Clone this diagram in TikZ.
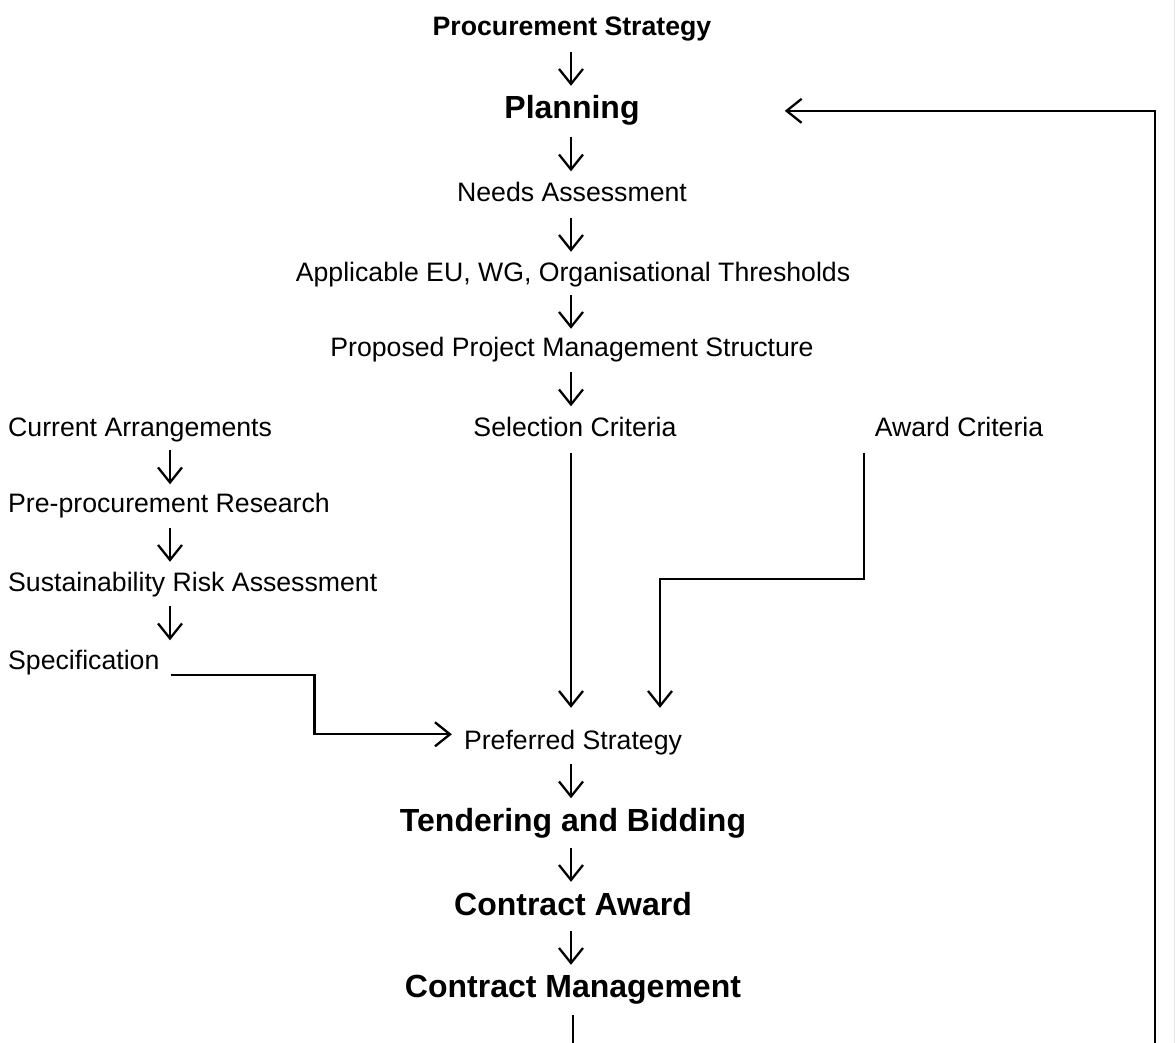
\documentclass[tikz,border=0pt]{standalone}
\usepackage{fontspec}
\setmainfont{Liberation Sans}
\usetikzlibrary{arrows.meta,calc}

\tikzset{
  lbl/.style={inner sep=0pt, font=\fontsize{26.67}{32}\selectfont,
              text height=19pt, text depth=5.6pt},
  smallhead/.style={lbl, font=\fontsize{26.67}{32}\selectfont\bfseries},
  stage/.style={inner sep=0pt, font=\fontsize{32}{38}\selectfont\bfseries,
                text height=23pt, text depth=6.7pt},
  arr/.style={draw=black, line width=2.3pt,
              -{Straight Barb[length=15pt,width=24pt]}},
}

% short downward arrow centred in the gap between two stacked labels
\newcommand\steparrow[3]{%
  \draw[arr] ($(#1.south -| #3)!.5!(#2.north -| #3)+(0,17)$) --
             ($(#1.south -| #3)!.5!(#2.north -| #3)-(0,17)$);}

\begin{document}
\begin{tikzpicture}[x=1pt,y=1pt]
  \clip (0,-1043) rectangle (1175,0);
  \fill[white] (0,-1043) rectangle (1175,0);
  \draw[gray!20, line width=1pt] (1174.5,-1043) -- (1174.5,0);

  % column guides
  \coordinate (ccol) at (571,0);
  \coordinate (lcol) at (170,0);
  \coordinate (loopbottom) at (573,-1070);
  \coordinate (loopright) at (1155,0);

  % main column
  \node[smallhead, anchor=base] (proc)   at (572,-36)  {Procurement Strategy};
  \node[stage,     anchor=base] (plan)   at (572,-119) {Planning};
  \node[lbl,       anchor=base] (needs)  at (572,-202) {Needs Assessment};
  \node[lbl,       anchor=base] (thresh) at (573,-281) {Applicable EU, WG, Organisational Thresholds};
  \node[lbl,       anchor=base] (pms)    at (572,-356) {Proposed Project Management Structure};
  \node[lbl,       anchor=base] (sel)    at (575,-436) {Selection Criteria};
  \node[lbl,       anchor=base] (award)  at (959,-436) {Award Criteria};
  \node[lbl,       anchor=base] (pref)   at (573,-749) {Preferred Strategy};
  \node[stage,     anchor=base] (tend)   at (573,-831) {Tendering and Bidding};
  \node[stage,     anchor=base] (caw)    at (573,-915) {Contract Award};
  \node[stage,     anchor=base] (cman)   at (573,-997) {Contract Management};

  % left column
  \node[lbl, anchor=base west] (curr) at (8,-436) {Current Arrangements};
  \node[lbl, anchor=base west] (pre)  at (8,-512) {Pre-procurement Research};
  \node[lbl, anchor=base west] (sust) at (8,-591) {Sustainability Risk Assessment};
  \node[lbl, anchor=base west] (spec) at (8,-669) {Specification};

  % short step arrows
  \steparrow{proc}{plan}{ccol}
  \steparrow{plan}{needs}{ccol}
  \steparrow{needs}{thresh}{ccol}
  \steparrow{thresh}{pms}{ccol}
  \steparrow{pms}{sel}{ccol}
  \steparrow{pref}{tend}{ccol}
  \steparrow{tend}{caw}{ccol}
  \steparrow{caw}{cman}{ccol}
  \steparrow{curr}{pre}{lcol}
  \steparrow{pre}{sust}{lcol}
  \steparrow{sust}{spec}{lcol}

  % inputs into the preferred strategy
  \draw[arr] ([yshift=-11pt]sel.south -| ccol) -- ([yshift=22pt]pref.north -| ccol);
  \draw[arr] ([xshift=-95pt,yshift=-11pt]award.south) -- ++(0,-126)
             -| ([xshift=87pt,yshift=22pt]pref.north);
  \draw[arr] ([xshift=11pt,yshift=-6pt]spec.base east) -- ++(144,0)
             |- ([xshift=-12pt,yshift=8pt]pref.west);

  % feedback loop back to planning
  \draw[arr] ([yshift=-11pt]cman.south) -- (cman.south |- loopbottom)
             -| (loopright |- plan.east) -- ([xshift=145pt]plan.east);
\end{tikzpicture}
\end{document}
